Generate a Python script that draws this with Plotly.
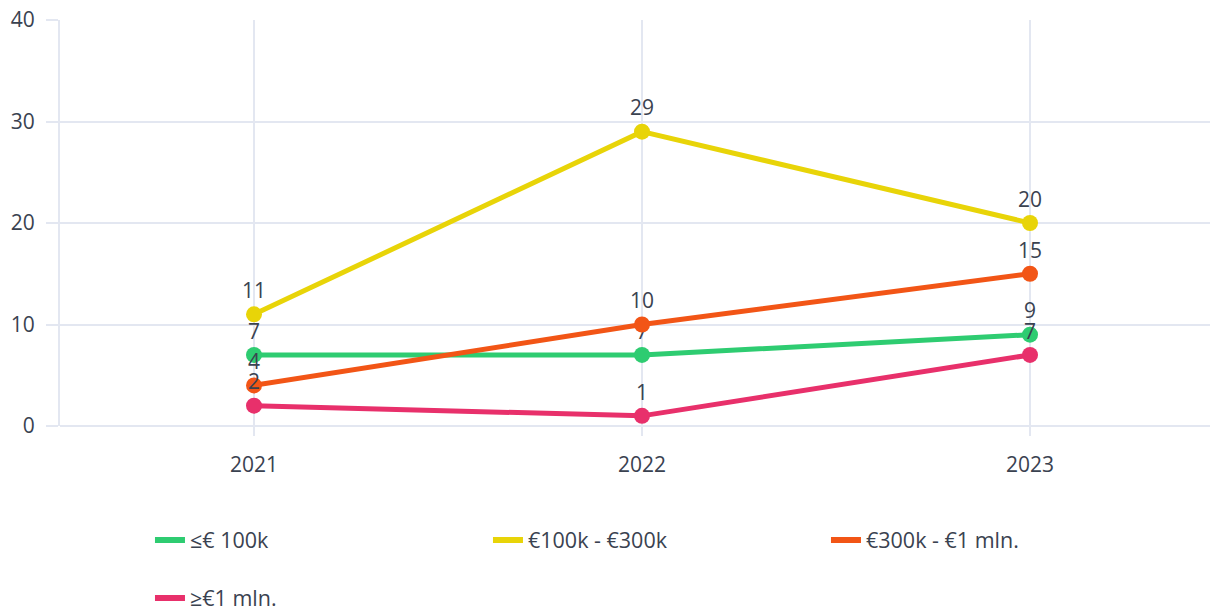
import plotly.graph_objects as go

years = ["2021", "2022", "2023"]
series_names = ["≤€ 100k", "€100k - €300k", "€300k - €1 mln.", "≥€1 mln."]
series_values = [
    [7, 7, 9],
    [11, 29, 20],
    [4, 10, 15],
    [2, 1, 7],
]
colors = ["#2ecc71", "#e8d408", "#f25516", "#e8306b"]
legend_ids = ["legend", "legend", "legend", "legend2"]

grid = "#e3e7f1"
txt = "#3a4250"

fig = go.Figure()
for name, vals, col in zip(series_names, series_values, colors):
    fig.add_trace(go.Scatter(
        x=years, y=vals, name=name, showlegend=False,
        mode="lines+markers+text",
        text=[str(v) for v in vals],
        textposition="top center",
        textfont=dict(size=21, color=txt),
        line=dict(color=col, width=5),
        marker=dict(size=16, color=col),
    ))

# legend entries drawn as plain lines
for name, col, lg in zip(series_names, colors, legend_ids):
    fig.add_trace(go.Scatter(
        x=[None], y=[None], name=name, mode="lines",
        line=dict(color=col, width=6), legend=lg,
    ))

leg = dict(orientation="h", x=0.0777, xanchor="left", yanchor="middle",
           entrywidth=293, font=dict(size=21.5, color=txt),
           bgcolor="rgba(0,0,0,0)")

# page body has an 8px margin, so the figure is shifted by 8px
fig.update_layout(
    template="plotly_white",
    width=1210, height=611,
    margin=dict(l=52, r=0, t=12, b=193, autoexpand=False),
    font=dict(family="Open Sans", size=21, color=txt),
    showlegend=True,
    legend=dict(leg, y=-0.281),
    legend2=dict(leg, y=-0.4236),
    xaxis=dict(type="category", range=[-0.5, 2.4845], showline=False,
               gridcolor=grid, ticks="outside", ticklen=9, tickcolor=grid,
               tickwidth=2, gridwidth=2, ticklabelstandoff=11,
               ticklabeloverflow="allow"),
    yaxis=dict(range=[0, 40], dtick=10,
               gridcolor=grid, gridwidth=2,
               ticks="outside", ticklen=12, tickcolor=grid, tickwidth=2,
               showline=True, linecolor=grid, linewidth=2,
               zerolinecolor=grid, zerolinewidth=2, ticklabelstandoff=7,
               ticklabeloverflow="allow"),
)

fig.write_html("out.html")
